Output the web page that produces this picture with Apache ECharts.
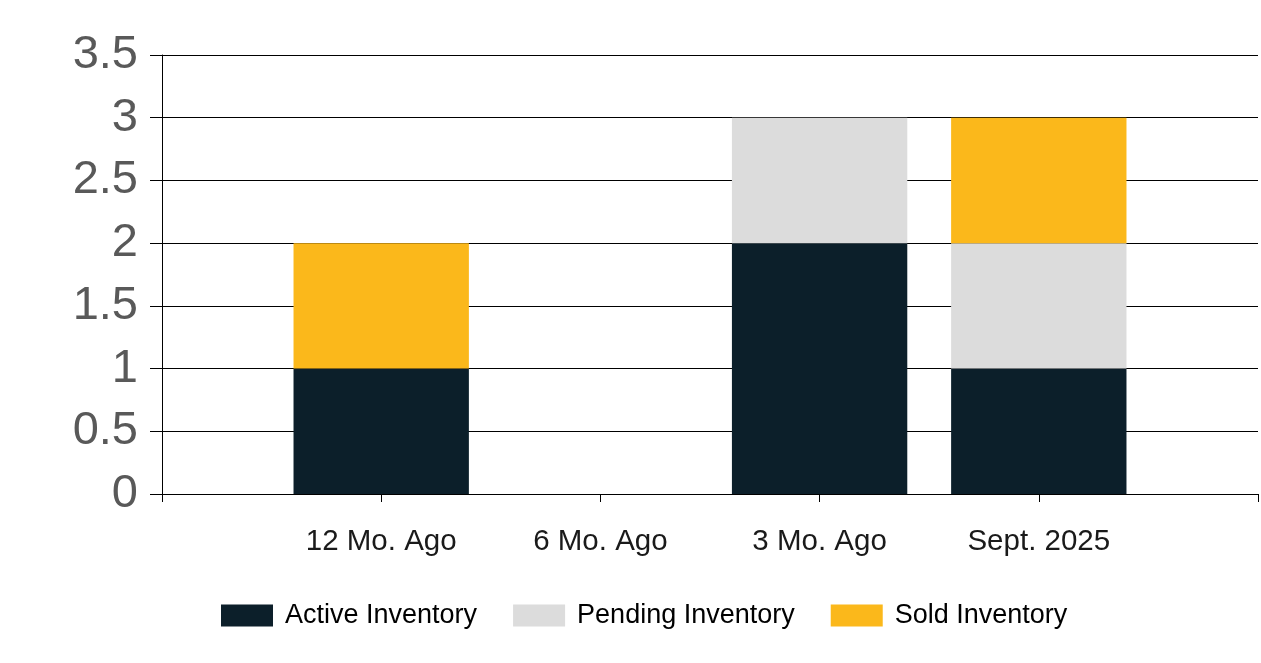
<!DOCTYPE html>
<html>
<head>
<meta charset="utf-8">
<script src="https://cdn.jsdelivr.net/npm/echarts@6/dist/echarts.min.js"></script>
<style>html,body{margin:0;padding:0;background:#fff;}#c{width:1261px;height:663px;}</style>
</head>
<body>
<div id="c"></div>
<script>
const categories = ['12 Mo. Ago', '6 Mo. Ago', '3 Mo. Ago', 'Sept. 2025'];
const activeInventory = [1, 0, 2, 1];
const pendingInventory = [0, 0, 1, 1];
const soldInventory = [1, 0, 0, 1];
const yTicks = [0, 0.5, 1, 1.5, 2, 2.5, 3, 3.5];

// pad with an empty slot on each side (axis layout)
const axisCats = [''].concat(categories, ['']);
const pad = arr => [null].concat(arr, [null]);

const chart = echarts.init(document.getElementById('c'));
const font = 'Liberation Sans, Arial, sans-serif';
chart.setOption({
  animation: false,
  grid: { left: 162, right: 3, top: 55, bottom: 169, containLabel: false },
  legend: {
    left: 221, top: 602, padding: 0,
    itemWidth: 52, itemHeight: 22, itemGap: 36,
    icon: 'rect',
    textStyle: { fontFamily: font, fontSize: 27, color: '#000', padding: [0, 0, 0, 7] },
    data: ['Active Inventory', 'Pending Inventory', 'Sold Inventory']
  },
  xAxis: {
    type: 'category',
    data: axisCats,
    boundaryGap: false,
    axisLine: { show: true, lineStyle: { color: '#000', width: 1 } },
    axisTick: { show: true, length: 8, lineStyle: { color: '#000' } },
    axisLabel: { interval: 0, margin: 33, fontFamily: font, fontSize: 29.5, color: '#1a1a1a' },
    splitLine: { show: false }
  },
  yAxis: {
    type: 'value',
    min: yTicks[0], max: yTicks[yTicks.length - 1], interval: 0.5,
    axisLine: { show: true, lineStyle: { color: '#000', width: 1 } },
    axisTick: { show: true, length: 12, lineStyle: { color: '#000' } },
    axisLabel: { margin: 24, fontFamily: font, fontSize: 47, color: '#595959' },
    splitLine: { show: true, lineStyle: { color: '#000', width: 1 } }
  },
  series: [
    { name: 'Active Inventory', type: 'bar', stack: 'inv', barWidth: '80%', data: pad(activeInventory), itemStyle: { color: '#0c1f2a' } },
    { name: 'Pending Inventory', type: 'bar', stack: 'inv', barWidth: '80%', data: pad(pendingInventory), itemStyle: { color: '#dcdcdc' } },
    { name: 'Sold Inventory', type: 'bar', stack: 'inv', barWidth: '80%', data: pad(soldInventory), itemStyle: { color: '#fbb81b' } }
  ]
});
</script>
</body>
</html>
